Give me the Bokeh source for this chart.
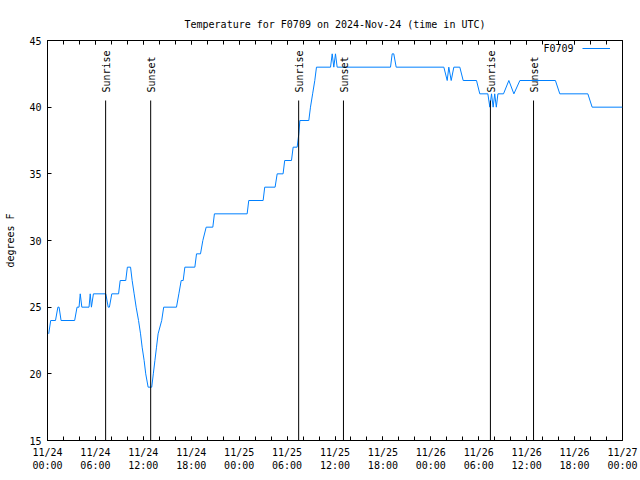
import math
from bokeh.plotting import figure
from bokeh.models import (Range1d, FixedTicker, LinearAxis, Legend, LegendItem,
                          Label, CustomJSTickFormatter, ColumnDataSource)
from bokeh.core.properties import value
from bokeh.embed import file_html
from bokeh.resources import INLINE

FONT = "DejaVu Sans Mono"

# hours since 2024-11-24 00:00 UTC
hours = [0.15, 0.4, 1.0, 1.3, 1.45, 1.7, 3.4, 3.7, 3.95, 4.1, 4.3, 5.2, 5.35, 5.5, 5.75,
         7.3, 7.6, 7.75, 8.05, 8.9, 9.1, 9.8, 10.0, 10.4, 10.6, 10.85, 11.1, 11.4, 11.65,
         11.85, 12.1, 12.3, 12.6, 13.05, 13.25, 13.45, 13.65, 13.85, 14.3, 14.55,
         16.15, 16.45, 16.74, 16.99, 17.2, 18.45, 18.66, 19.16, 19.45, 19.87, 20.7, 20.9,
         25.0, 25.2, 27.0, 27.2, 28.5, 28.76, 29.5, 29.7, 30.55, 30.76, 31.26, 31.47,
         31.6, 32.72, 32.93, 33.2, 33.47, 33.68, 35.44, 35.65, 35.85, 36.06, 36.27,
         42.95, 43.16, 43.36, 43.66, 49.63, 50.05, 50.25, 50.55, 50.88, 51.63, 52.05,
         53.72, 54.13, 55.14, 55.39, 55.6, 55.8, 56.0, 56.2, 56.4, 57.1, 57.77, 58.4,
         59.15, 63.6, 64.15, 67.66, 68.2, 72.0]
temps = [23, 24, 24, 25, 25, 24, 24, 25, 25, 26, 25, 25, 26, 25, 26,
         26, 25, 25, 26, 26, 27, 27, 28, 28, 27, 26, 25, 24, 23,
         22, 21, 20, 19, 19, 20, 21, 22, 23, 24, 25,
         25, 26, 27, 27, 28, 28, 29, 29, 30, 31, 31, 32,
         32, 33, 33, 34, 34, 35, 35, 36, 36, 37, 37, 38,
         39, 39, 40, 41, 42, 43, 43, 44, 43, 44, 43,
         43, 44, 44, 43, 43, 42, 43, 42, 43, 43, 42,
         42, 41, 41, 40, 41, 40, 41, 40, 41, 41, 42, 41,
         42, 42, 41, 41, 40, 40]

sun_names = ["Sunrise", "Sunset", "Sunrise", "Sunset", "Sunrise", "Sunset"]
sun_hours = [7.28, 12.92, 31.45, 37.06, 55.46, 60.86]

tick_hours = [0, 6, 12, 18, 24, 30, 36, 42, 48, 54, 60, 66, 72]
tick_labels = ["11/24\n00:00", "11/24\n06:00", "11/24\n12:00", "11/24\n18:00",
               "11/25\n00:00", "11/25\n06:00", "11/25\n12:00", "11/25\n18:00",
               "11/26\n00:00", "11/26\n06:00", "11/26\n12:00", "11/26\n18:00",
               "11/27\n00:00"]
minor_hours = list(range(0, 73, 2))
y_ticks = [15, 20, 25, 30, 35, 40, 45]

p = figure(width=640, height=480, output_backend="svg", toolbar_location=None,
           x_range=Range1d(0, 72), y_range=Range1d(15, 45),
           x_axis_location="below", min_border_left=47, min_border_right=18,
           min_border_top=40, min_border_bottom=40,
           title="Temperature for F0709 on 2024-Nov-24 (time in UTC)")
p.title.text_font = FONT
p.title.text_font_size = "10px"
p.title.text_font_style = "normal"
p.title.text_color = "black"
p.title.align = "center"
p.title.standoff = 21
p.grid.visible = False
p.outline_line_color = "black"
p.outline_line_alpha = 1.0
p.background_fill_color = "white"
p.border_fill_color = "white"

xa = p.xaxis[0]
xa.ticker = FixedTicker(ticks=tick_hours, minor_ticks=minor_hours)
xa.major_label_overrides = {h: lab for h, lab in zip(tick_hours, tick_labels)}
xa.major_tick_in = 4
xa.major_tick_out = 0
xa.minor_tick_in = 4
xa.minor_tick_out = 0
xa.major_label_text_font = FONT
xa.major_label_text_font_size = "10px"
xa.major_label_text_color = "black"
xa.major_label_standoff = 6
xa.axis_line_color = "black"
xa.major_tick_line_color = "black"
xa.minor_tick_line_color = "black"

top = LinearAxis(ticker=FixedTicker(ticks=tick_hours, minor_ticks=minor_hours),
                 formatter=CustomJSTickFormatter(code="return ''"),
                 major_tick_in=4, major_tick_out=0, minor_tick_in=4, minor_tick_out=0,
                 major_label_standoff=0, axis_line_color="black",
                 major_tick_line_color="black", minor_tick_line_color="black")
p.add_layout(top, "above")

ya = p.yaxis[0]
ya.ticker = FixedTicker(ticks=y_ticks)
ya.major_tick_in = 4
ya.major_tick_out = 0
ya.minor_tick_line_color = None
ya.major_tick_line_color = "black"
ya.major_label_text_font = FONT
ya.major_label_text_font_size = "10px"
ya.major_label_text_color = "black"
ya.major_label_standoff = 6
ya.axis_label = "degrees F"
ya.axis_label_text_font = FONT
ya.axis_label_text_font_size = "10px"
ya.axis_label_text_font_style = "normal"
ya.axis_label_text_color = "black"
ya.axis_label_standoff = 10
ya.axis_line_color = "black"

src = ColumnDataSource(dict(x=hours, y=temps))
ln = p.line("x", "y", source=src, line_color="#0080ff", line_width=1)

sun_src = ColumnDataSource(dict(x=sun_hours, y0=[15] * 6, y1=[40.5] * 6,
                                yt=[41.1] * 6, name=sun_names))
p.segment(x0="x", y0="y0", x1="x", y1="y1", source=sun_src, line_color="black", line_width=1)
p.text(x="x", y="yt", text="name", source=sun_src, angle=math.pi / 2,
       text_align="left", text_baseline="middle", text_font=value(FONT),
       text_font_size="10px", text_color="black", x_offset=1)

p.add_layout(Label(x=496, y=392, x_units="screen", y_units="screen", text="F0709",
                   text_font=FONT, text_font_size="10px", text_baseline="middle",
                   text_align="left", text_color="black"))
leg = Legend(items=[LegendItem(label=value(" "), renderers=[ln])], location="top_right",
             padding=0, margin=6, spacing=0, label_width=6, label_standoff=0,
             glyph_width=28, glyph_height=4, border_line_color=None,
             background_fill_alpha=0, label_text_font=FONT, label_text_font_size="10px")
p.add_layout(leg)

open("out.html", "w").write(file_html(p, INLINE))
